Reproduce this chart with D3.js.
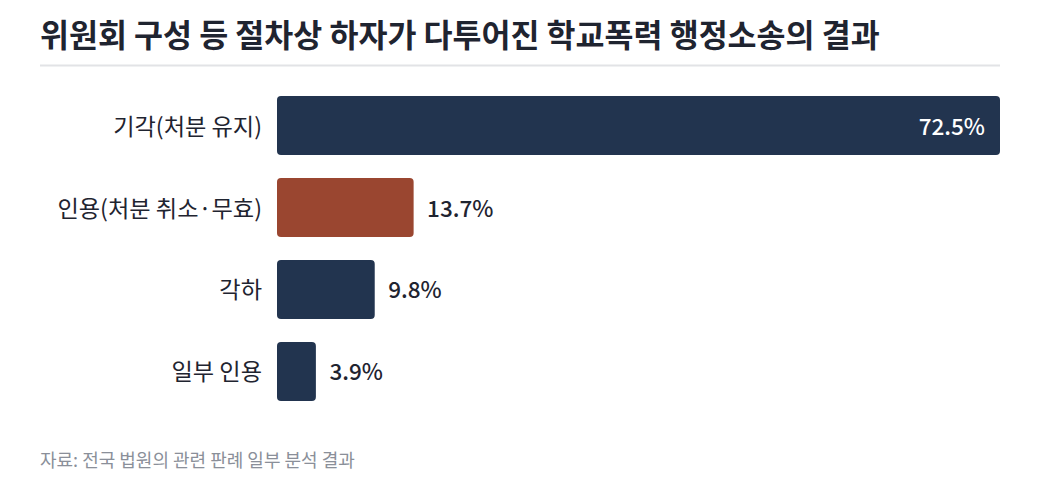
<!DOCTYPE html>
<html><head><meta charset="utf-8">
<script src="https://cdn.jsdelivr.net/npm/d3@7"></script>
<style>
html,body{margin:0;padding:0;background:#fff;}
svg{display:block;font-family:"Noto Sans CJK KR","Noto Sans",sans-serif;}
</style></head>
<body>
<svg id="chart" width="1040" height="495"></svg>
<script>
const categories = ["기각(처분 유지)", "인용(처분 취소·무효)", "각하", "일부 인용"];
const values = [72.5, 13.7, 9.8, 3.9];
const barColors = ["#22344f", "#9a4630", "#22344f", "#22344f"];
const valueLabels = ["72.5%", "13.7%", "9.8%", "3.9%"];
const title = "위원회 구성 등 절차상 하자가 다투어진 학교폭력 행정소송의 결과";
const source = "자료: 전국 법원의 관련 판례 일부 분석 결과";

const svg = d3.select("#chart");
svg.append("text").attr("x", 40).attr("y", 47)
  .attr("font-size", 31.5).attr("font-weight", 700).attr("fill", "#1f2430")
  .text(title);
svg.append("line").attr("x1", 40).attr("x2", 1000).attr("y1", 65.5).attr("y2", 65.5)
  .attr("stroke", "#e2e3e6").attr("stroke-width", 2);

const x = d3.scaleLinear().domain([0, d3.max(values)]).range([277, 1000]);
const y = d3.scaleBand().domain(categories).range([96, 401]).paddingInner(0.28).paddingOuter(0);

const g = svg.append("g");
categories.forEach((c, i) => {
  const v = values[i];
  g.append("rect").attr("x", x(0)).attr("y", y(c))
    .attr("width", x(v) - x(0)).attr("height", y.bandwidth())
    .attr("rx", 4).attr("fill", barColors[i]);
  g.append("text").attr("x", 262).attr("y", y(c) + y.bandwidth() / 2 - 1)
    .attr("text-anchor", "end").attr("dominant-baseline", "central")
    .attr("font-size", 23.2).attr("fill", "#1f2430").text(c);
  const inside = (x(v) - x(0)) > 200;
  g.append("text")
    .attr("x", inside ? x(v) - 15 : x(v) + 13.5)
    .attr("y", y(c) + y.bandwidth() / 2 - 1)
    .attr("text-anchor", inside ? "end" : "start").attr("dominant-baseline", "central")
    .attr("font-size", 22.5).attr("font-weight", 500)
    .attr("fill", inside ? "#ffffff" : "#1f2430").text(valueLabels[i]);
});

svg.append("text").attr("x", 40).attr("y", 467)
  .attr("font-size", 18).attr("fill", "#8a8f99").text(source);
</script>
</body></html>
